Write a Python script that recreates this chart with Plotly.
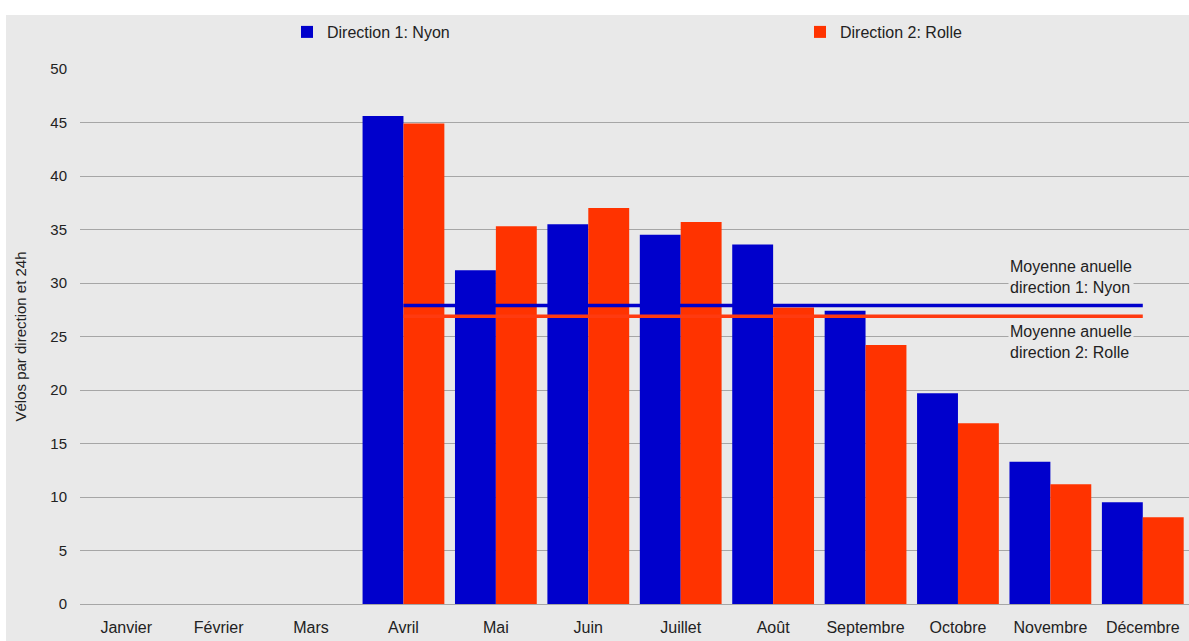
import plotly.graph_objects as go

months = ["Janvier", "Février", "Mars", "Avril", "Mai", "Juin", "Juillet",
          "Août", "Septembre", "Octobre", "Novembre", "Décembre"]
nyon = [None, None, None, 45.6, 31.2, 35.5, 34.5, 33.6, 27.4, 19.7, 13.3, 9.5]
rolle = [None, None, None, 44.9, 35.3, 37.0, 35.7, 27.7, 24.2, 16.9, 11.2, 8.1]
mean_nyon = 27.9
mean_rolle = 26.9
line_months = months[3:]

BLUE = "#0000cc"
RED = "#ff3300"
BG = "#e9e9e9"
FONT = "Liberation Sans, Arial, sans-serif"

fig = go.Figure()
fig.add_trace(go.Bar(x=months, y=nyon, name="Direction 1: Nyon",
                     marker=dict(color=BLUE, line=dict(width=0)), legend="legend"))
fig.add_trace(go.Bar(x=months, y=rolle, name="Direction 2: Rolle",
                     marker=dict(color=RED, line=dict(width=0)), legend="legend2"))
fig.add_trace(go.Scatter(x=line_months, y=[mean_nyon] * len(line_months), mode="lines",
                         line=dict(color=BLUE, width=3.5), showlegend=False,
                         hoverinfo="skip"))
fig.add_trace(go.Scatter(x=line_months, y=[mean_rolle] * len(line_months), mode="lines",
                         line=dict(color="#ff3a10", width=3.5), showlegend=False,
                         hoverinfo="skip"))

W, H = 1189, 641
L, R, T, B = 80, 0, 69, 37
pw, ph = W - L - R, H - T - B

fig.add_shape(type="rect", xref="paper", yref="paper",
              x0=(6 - L) / pw, x1=1.02, y0=-(B + 5) / ph, y1=(H - B - 15) / ph,
              fillcolor=BG, line=dict(width=0), layer="below")

fig.add_annotation(xref="paper", yref="y", x=(1071 - L) / pw, y=30.55,
                   xanchor="center", yanchor="middle",
                   text="Moyenne anuelle<br>direction 1: Nyon", showarrow=False,
                   font=dict(size=16, color="#222222", family=FONT), bgcolor=BG,
                   align="left", borderpad=1)
fig.add_annotation(xref="paper", yref="y", x=(1071 - L) / pw, y=24.5,
                   xanchor="center", yanchor="middle",
                   text="Moyenne anuelle<br>direction 2: Rolle", showarrow=False,
                   font=dict(size=16, color="#222222", family=FONT), bgcolor=BG,
                   align="left", borderpad=1)

fig.update_layout(
    width=W, height=H,
    margin=dict(l=L, r=R, t=T, b=B, autoexpand=False),
    paper_bgcolor="white", plot_bgcolor=BG,
    barmode="group", bargap=0.115, bargroupgap=0,
    font=dict(family=FONT, size=16, color="#222222"),
    legend=dict(orientation="h", x=(287 - L) / pw, y=(H - B - 32) / ph,
                xanchor="left", yanchor="middle", bgcolor="rgba(0,0,0,0)",
                font=dict(size=16), itemwidth=30),
    legend2=dict(orientation="h", x=(800 - L) / pw, y=(H - B - 32) / ph,
                 xanchor="left", yanchor="middle", bgcolor="rgba(0,0,0,0)",
                 font=dict(size=16), itemwidth=30),
    xaxis=dict(showgrid=False, ticks="outside", ticklen=9, tickcolor="rgba(0,0,0,0)",
               tickfont=dict(size=16), showline=False, fixedrange=True),
    yaxis=dict(range=[0, 50], dtick=5, showgrid=True, gridcolor="#a6a6a6", gridwidth=1,
               zeroline=True, zerolinecolor="#a6a6a6", zerolinewidth=1,
               ticks="outside", ticklen=9, tickcolor="rgba(0,0,0,0)",
               tickfont=dict(size=15), automargin=False,
               title=dict(text="Vélos par direction et 24h", font=dict(size=15),
                          standoff=20)),
)

fig.write_html("out.html", config={"displayModeBar": False},
               post_script="document.body.style.margin='0';")
